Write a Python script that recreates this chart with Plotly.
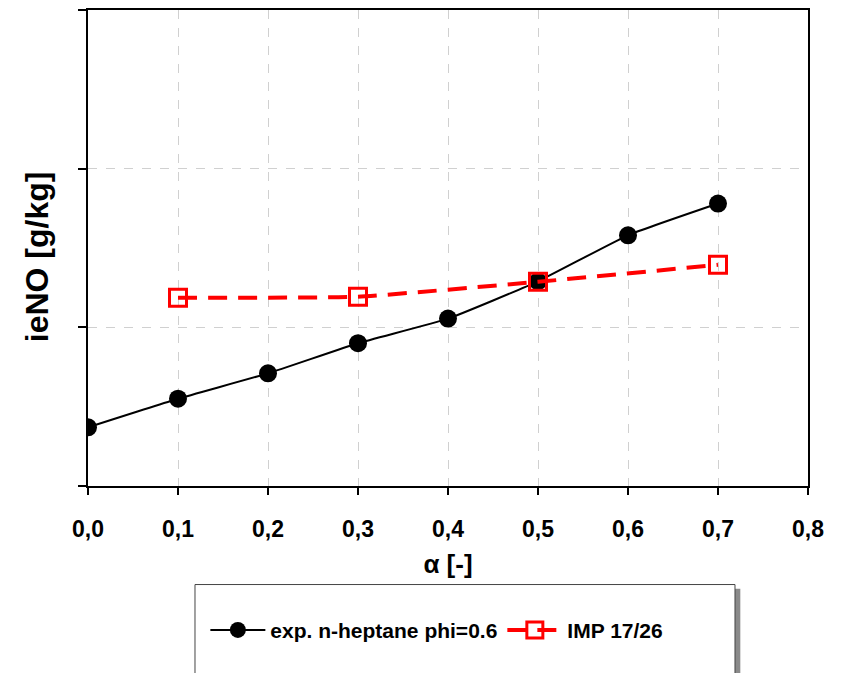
import plotly.graph_objects as go

alpha_exp = [0.0, 0.1, 0.2, 0.3, 0.4, 0.5, 0.6, 0.7]
ieno_exp = [0.37, 0.55, 0.71, 0.90, 1.055, 1.29, 1.58, 1.78]
alpha_imp = [0.1, 0.3, 0.5, 0.7]
ieno_imp = [1.186, 1.193, 1.287, 1.394]
x_ticks = [0.0, 0.1, 0.2, 0.3, 0.4, 0.5, 0.6, 0.7, 0.8]
x_tick_labels = ["0,0", "0,1", "0,2", "0,3", "0,4", "0,5", "0,6", "0,7", "0,8"]
name_exp = "<b>exp. n-heptane phi=0.6</b>"
name_imp = "<b>IMP 17/26</b>"

FONT = "Liberation Sans, Arial, sans-serif"

fig = go.Figure()
fig.add_trace(go.Scatter(
    x=alpha_exp, y=ieno_exp, name=name_exp, mode="lines+markers",
    line=dict(color="black", width=2, shape="spline", smoothing=0.4),
    marker=dict(symbol="circle", size=18, color="black"),
))
fig.add_trace(go.Scatter(
    x=alpha_imp, y=ieno_imp, name=name_imp, mode="lines+markers",
    line=dict(color="#ff0000", width=4, dash="19px,11px", shape="spline", smoothing=0.4),
    marker=dict(symbol="square-open", size=17, color="#ff0000", line=dict(width=3, color="#ff0000")),
))

# legend box with shadow
fig.add_shape(type="rect", xref="paper", yref="paper", x0=0.155, x1=0.906, y0=-0.47, y1=-0.216,
              fillcolor="#8a8a8a", line=dict(width=0), layer="below")
fig.add_shape(type="rect", xref="paper", yref="paper", x0=0.1486, x1=0.8986, y0=-0.45, y1=-0.207,
              fillcolor="white", line=dict(color="#444444", width=1), layer="below")

fig.update_layout(
    width=843, height=673,
    margin=dict(l=88, r=35, t=8, b=187),
    paper_bgcolor="white", plot_bgcolor="white",
    font=dict(family=FONT, color="black"),
    showlegend=True,
    legend=dict(orientation="h", x=0.163, y=-0.303, xanchor="left", yanchor="middle",
                bgcolor="rgba(0,0,0,0)", font=dict(size=21, family=FONT, color="black"),
                itemwidth=55, tracegroupgap=0),
    xaxis=dict(range=[0, 0.8], tickvals=x_ticks, ticktext=x_tick_labels,
               tickfont=dict(size=23, family=FONT, weight="bold"),
               ticklabelstandoff=14,
               showline=True, linecolor="black", linewidth=2, mirror=True,
               ticks="outside", ticklen=7, tickwidth=1.5, tickcolor="black",
               showgrid=True, gridcolor="#d0d0d0", griddash="dash", gridwidth=1,
               zeroline=False,
               title=dict(text="<b>α [-]</b>",
                          font=dict(size=26, family=FONT), standoff=14)),
    yaxis=dict(range=[0, 3], dtick=1, showticklabels=False,
               showline=True, linecolor="black", linewidth=2, mirror=True,
               ticks="outside", ticklen=8, tickwidth=1.5, tickcolor="black",
               showgrid=True, gridcolor="#d0d0d0", griddash="dash", gridwidth=1,
               zeroline=False,
               title=dict(text="<b>ieNO [g/kg]&nbsp;&nbsp;</b>", font=dict(size=32, family=FONT), standoff=20)),
)

fig.write_html("out.html")
